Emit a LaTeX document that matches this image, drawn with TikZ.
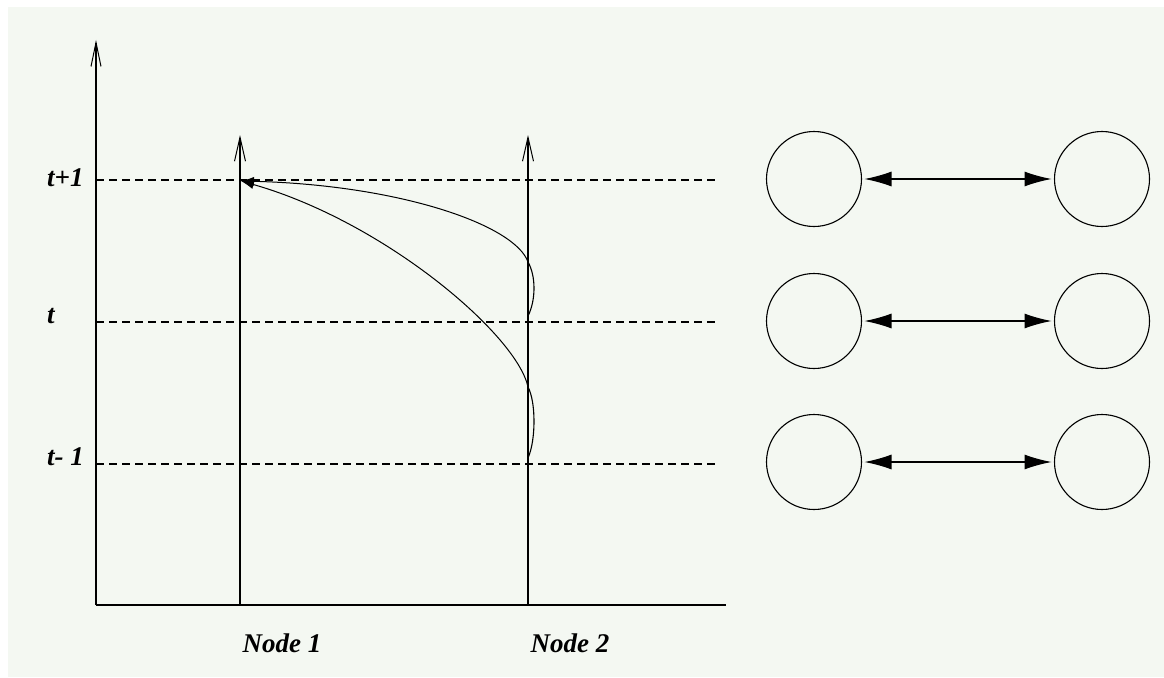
\documentclass[tikz,border=0pt]{standalone}
\usepackage{fontspec}
\setmainfont{Liberation Serif}
\usetikzlibrary{arrows.meta}
\definecolor{bg}{HTML}{F4F8F2}
\tikzset{
  lbl/.style={font=\fontsize{27}{32}\selectfont\bfseries\itshape, inner sep=0pt},
  axis/.style={line width=1.6pt},
  timeline/.style={line width=1.4pt, -{Straight Barb[length=24pt,width=11pt,line width=1pt]}},
  level/.style={line width=1.2pt, dash pattern=on 8pt off 5pt},
  msg/.style={line width=1pt, -{Latex[length=13pt,width=9pt]}},
  bump/.style={line width=1.1pt},
  proc/.style={circle, draw, line width=1.1pt, minimum size=95pt, inner sep=0pt, outer sep=3pt},
  link/.style={line width=1.1pt, {Latex[length=27pt,width=15pt]}-{Latex[length=27pt,width=15pt]}}
}
\begin{document}
\begin{tikzpicture}[x=1pt,y=-1pt]
\useasboundingbox (0,0) rectangle (1164,677);
\fill[white] (0,0) rectangle (1164,677);
\fill[bg] (8,7) rectangle (1164,677);
% axes
\coordinate (O) at (96,605);
\coordinate (ytop) at (96,40);
\coordinate (xend) at (726,605);
\draw[axis, -{Straight Barb[length=24pt,width=10pt,line width=1pt]}] (O) -- (ytop);
\draw[axis] (O) -- (xend);
% time levels
\coordinate (l1a) at (96,180); \coordinate (l1b) at (718,180);
\coordinate (l2a) at (96,322); \coordinate (l2b) at (718,322);
\coordinate (l3a) at (96,464); \coordinate (l3b) at (718,464);
\draw[level] (l1a) -- (l1b);
\draw[level] (l2a) -- (l2b);
\draw[level] (l3a) -- (l3b);
\node[lbl, anchor=base west] (tp1) at (47,186) {t+1};
\node[lbl, anchor=base west] (t0) at (47,323) {t};
\node[lbl, anchor=base west] (tm1) at (47,465) {t- 1};
% node timelines
\coordinate (n1b) at (240,605); \coordinate (n1t) at (240,135);
\coordinate (n2b) at (528,605); \coordinate (n2t) at (528,135);
\draw[timeline] (n1b) -- (n1t);
\draw[timeline] (n2b) -- (n2t);
\node[lbl, anchor=base] (node1) at (282,652) {Node 1};
\node[lbl, anchor=base] (node2) at (570,652) {Node 2};
% messages
\coordinate (r) at (241,181);
\coordinate (s1) at (528,262); \coordinate (e1) at (528,316);
\coordinate (s2) at (528,387); \coordinate (e2) at (528,458);
\draw[bump] (s1) .. controls (536,276) and (536,300) .. (e1);
\draw[bump] (s2) .. controls (536,402) and (536,440) .. (e2);
\draw[msg] (s1) .. controls (515,225) and (400,185) .. (r);
\draw[msg] (s2) .. controls (517,335) and (385,222) .. (r);
% right: processes
\node[proc] (a1) at (814,179) {};
\node[proc] (b1) at (1102,179) {};
\node[proc] (a2) at (814,321) {};
\node[proc] (b2) at (1102,321) {};
\node[proc] (a3) at (814,462) {};
\node[proc] (b3) at (1102,462) {};
\draw[link] (a1) -- (b1);
\draw[link] (a2) -- (b2);
\draw[link] (a3) -- (b3);
\end{tikzpicture}
\end{document}
